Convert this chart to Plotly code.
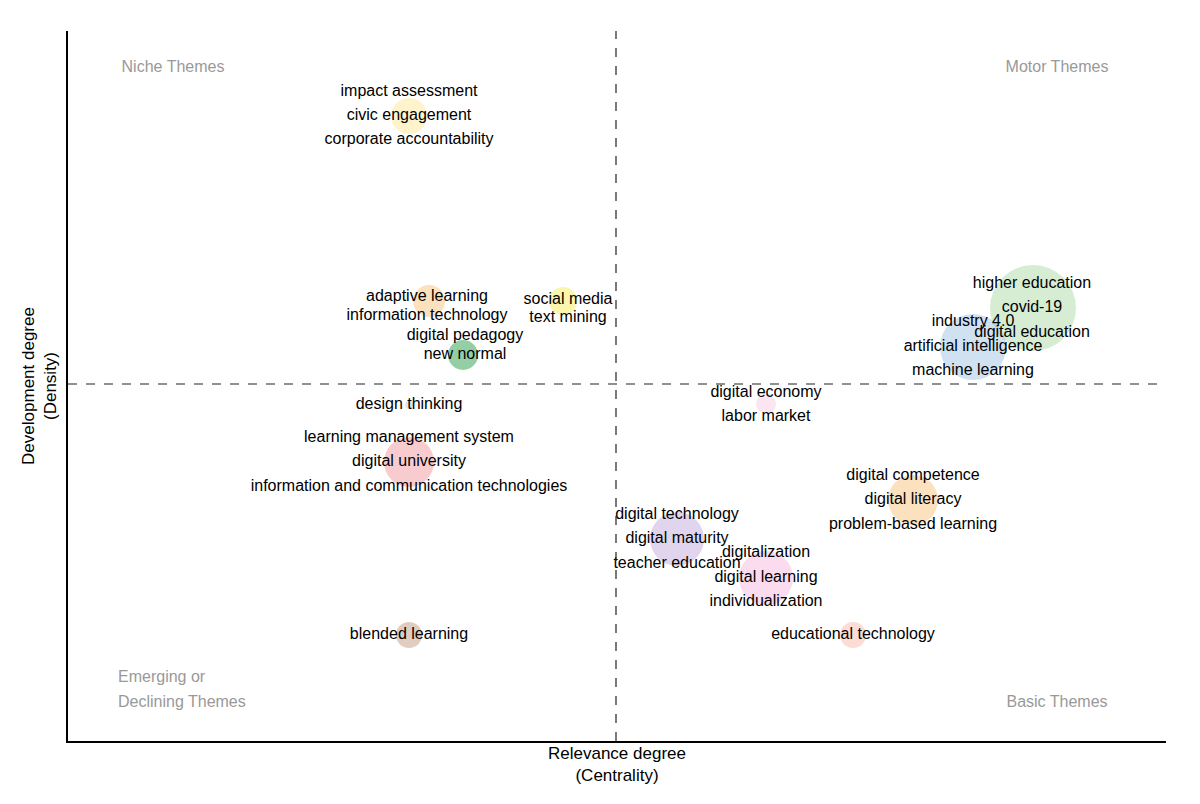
import plotly.graph_objects as go

# bubble clusters: centrality, density, size, colour
cluster_x = [341, 361, 495, 395, 965, 905, 698, 341, 341, 845, 609, 698, 341, 785]
cluster_y = [625, 440, 440, 386, 433, 394, 337, 336, 279, 241, 202, 163, 106, 106]
cluster_size = [36, 32, 28, 30, 86, 66, 20, 8, 50, 50, 54, 54, 26, 26]
cluster_color = ['#fde9a0', '#f9c98a', '#f5ee6a', '#3aa55a', '#b5dfae', '#a9c8e8',
                 '#f7d0e4', '#c9d6ea', '#f2a3a8', '#f9c98a', '#c7b3dc', '#f7bde0',
                 '#c9a48c', '#f9c0b0']

# label text and positions
label_text = ['impact assessment', 'civic engagement', 'corporate accountability',
              'adaptive learning', 'information technology', 'digital pedagogy', 'new normal',
              'social media', 'text mining',
              'higher education', 'covid-19', 'digital education',
              'industry 4.0', 'artificial intelligence', 'machine learning',
              'digital economy', 'labor market', 'design thinking',
              'learning management system', 'digital university',
              'information and communication technologies',
              'digital competence', 'digital literacy', 'problem-based learning',
              'digital technology', 'digital maturity', 'teacher education',
              'digitalization', 'digital learning', 'individualization',
              'blended learning', 'educational technology']
label_x = [341, 341, 341, 359, 359, 397, 397, 500, 500, 964, 964, 964, 905, 905, 905,
           698, 698, 341, 341, 341, 341, 845, 845, 845, 609, 609, 609, 698, 698, 698,
           341, 785]
label_y = [649, 625, 601, 444, 425, 405, 386, 441, 423, 457, 433, 408, 419, 394, 370,
           348, 324, 336, 303, 279, 254, 265, 241, 216, 226, 202, 177, 188, 163, 139,
           106, 106]

quad_text = ['Niche Themes', 'Motor Themes', 'Basic Themes']
quad_x = [105, 989, 989]
quad_y = [673, 673, 38]
emerging_text = ['Emerging or', 'Declining Themes']
emerging_x = [50, 50]
emerging_y = [63, 38]

fig = go.Figure()
fig.add_trace(go.Scatter(x=cluster_x, y=cluster_y, mode='markers',
                         marker=dict(size=cluster_size, color=cluster_color, opacity=0.55,
                                     line=dict(width=0)), hoverinfo='skip'))
fig.add_trace(go.Scatter(x=label_x, y=label_y, mode='text', text=label_text,
                         textfont=dict(size=16, color='black', family='Liberation Sans')))
fig.add_trace(go.Scatter(x=quad_x, y=quad_y, mode='text', text=quad_text,
                         textfont=dict(size=16, color='#999999', family='Liberation Sans')))
fig.add_trace(go.Scatter(x=emerging_x, y=emerging_y, mode='text', text=emerging_text,
                         textposition='middle right',
                         textfont=dict(size=16, color='#999999', family='Liberation Sans')))
fig.add_shape(type='line', x0=548, x1=548, y0=0, y1=710, line=dict(dash='dash', color='#222', width=1.2))
fig.add_shape(type='line', x0=0, x1=1098, y0=357, y1=357, line=dict(dash='dash', color='#222', width=1.2))

fig.update_layout(
    width=1200, height=804, showlegend=False, plot_bgcolor='white', paper_bgcolor='white',
    margin=dict(l=60, r=42, t=23, b=71),
    font=dict(family='Liberation Sans', size=14, color='black'),
    xaxis=dict(range=[0, 1098], showticklabels=False, ticks='', showgrid=False, zeroline=False,
               showline=True, linecolor='black', linewidth=1.5,
               title=dict(text='Relevance degree<br>(Centrality)', standoff=5)),
    yaxis=dict(range=[0, 710], showticklabels=False, ticks='', showgrid=False, zeroline=False,
               showline=True, linecolor='black', linewidth=1.5,
               title=dict(text='Development degree<br>(Density)', standoff=5)),
)
fig.write_html('out.html')
